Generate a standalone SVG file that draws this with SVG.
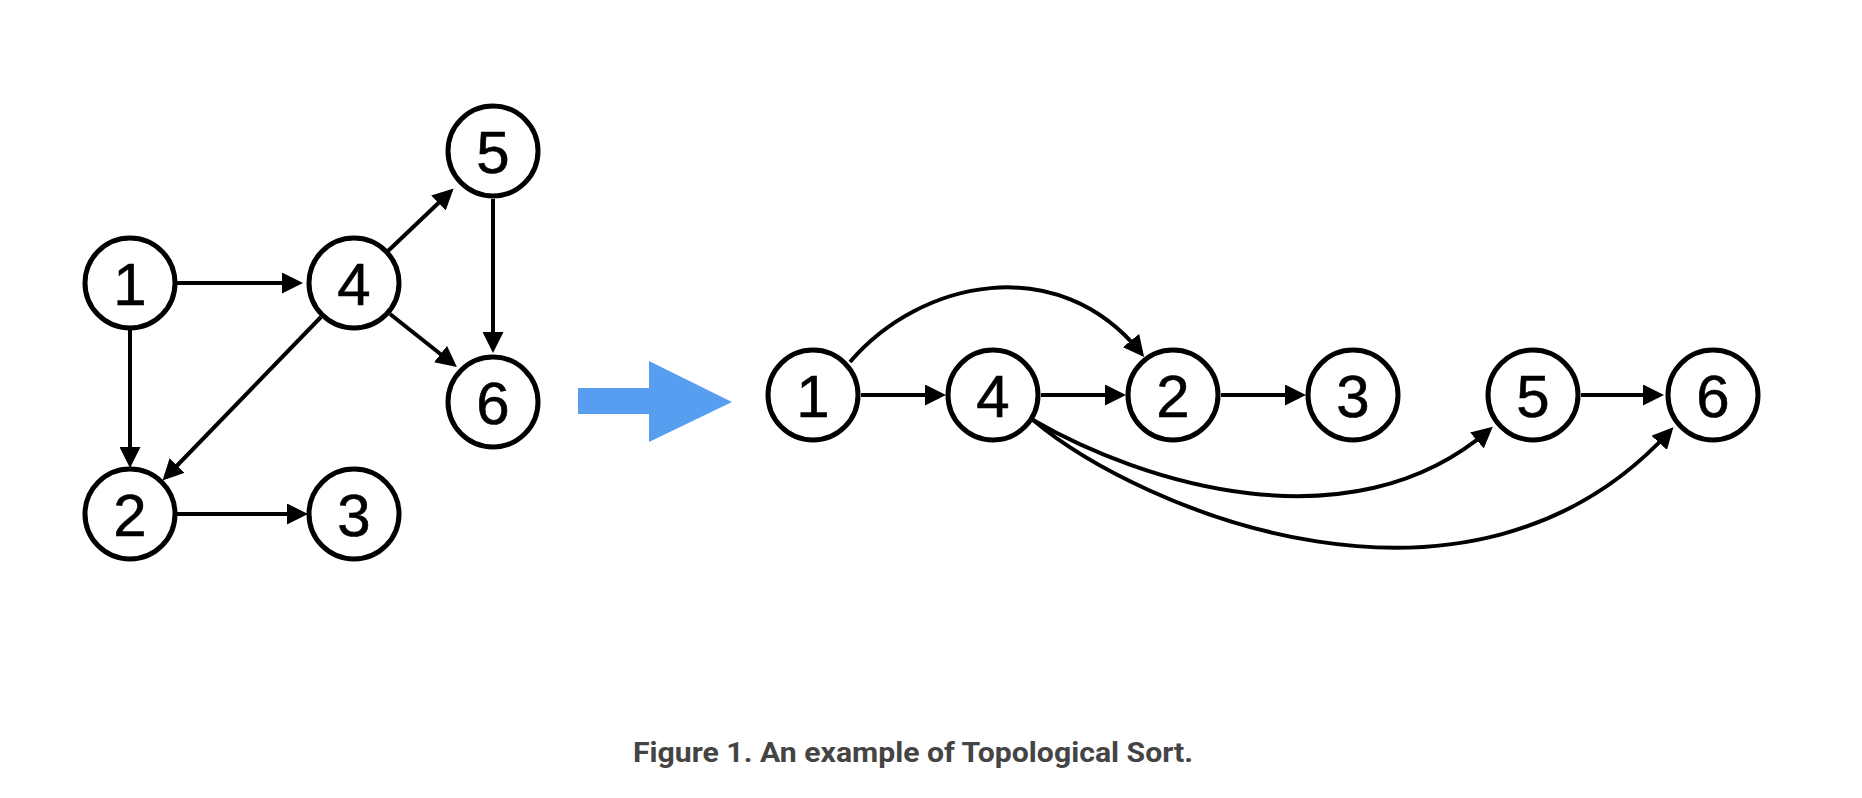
<svg xmlns="http://www.w3.org/2000/svg" width="1862" height="798" viewBox="0 0 1862 798">
  <style>
    .node circle { fill: #ffffff; stroke: #000000; stroke-width: 5; }
    .node text { font-family: "Liberation Sans", Arial, sans-serif; font-size: 60px; fill: #000000; stroke: #000000; stroke-width: 0.6; text-anchor: middle; }
    .edge { fill: none; stroke: #000000; stroke-width: 4; marker-end: url(#arrow); }
    .caption { font-family: Roboto, "Liberation Sans", sans-serif; font-weight: 700; font-size: 28.5px; fill: #444444; text-anchor: middle; }
  </style>
  <defs>
    <marker id="arrow" markerUnits="userSpaceOnUse" markerWidth="21" markerHeight="21" refX="16" refY="10.5" orient="auto" viewBox="0 0 21 21">
      <path d="M0,0 L21,10.5 L0,21 Z" fill="#000000"/>
    </marker>
  </defs>
  <rect x="0" y="0" width="1862" height="798" fill="#ffffff"/>

  <g id="connectors">
    <!-- left graph -->
    <path class="edge" d="M177,283 L298,283"/>
    <path class="edge" d="M130,330 L130,463"/>
    <path class="edge" d="M177,514 L303,514"/>
    <path class="edge" d="M388,251 L450,192"/>
    <path class="edge" d="M390,314 L453,364"/>
    <path class="edge" d="M321,317 L166,477"/>
    <path class="edge" d="M493,199 L493,348"/>
    <!-- right graph -->
    <path class="edge" d="M861,395 L941,395"/>
    <path class="edge" d="M1041,395 L1121,395"/>
    <path class="edge" d="M1221,395 L1301,395"/>
    <path class="edge" d="M1581,395 L1659,395"/>
    <path class="edge" d="M850,362 C920,280 1058,250 1141,353"/>
    <path class="edge" d="M1033,420 C1140,482 1350,550 1489,430"/>
    <path class="edge" d="M1033,420 C1140,510 1470,650 1670,431"/>
  </g>

  <g id="transform-arrow">
    <polygon points="578,388 649,388 649,361 732,402 649,442 649,414 578,414" fill="#589ef0"/>
  </g>

  <g id="left-node-1" class="node"><circle cx="130" cy="283" r="45"/><text x="130" y="304.5">1</text></g>
  <g id="left-node-4" class="node"><circle cx="354" cy="283" r="45"/><text x="354" y="304.5">4</text></g>
  <g id="left-node-5" class="node"><circle cx="493" cy="151" r="45"/><text x="493" y="172.5">5</text></g>
  <g id="left-node-6" class="node"><circle cx="493" cy="402" r="45"/><text x="493" y="423.5">6</text></g>
  <g id="left-node-2" class="node"><circle cx="130" cy="514" r="45"/><text x="130" y="535.5">2</text></g>
  <g id="left-node-3" class="node"><circle cx="354" cy="514" r="45"/><text x="354" y="535.5">3</text></g>

  <g id="right-node-1" class="node"><circle cx="813" cy="395" r="45"/><text x="813" y="416.5">1</text></g>
  <g id="right-node-4" class="node"><circle cx="993" cy="395" r="45"/><text x="993" y="416.5">4</text></g>
  <g id="right-node-2" class="node"><circle cx="1173" cy="395" r="45"/><text x="1173" y="416.5">2</text></g>
  <g id="right-node-3" class="node"><circle cx="1353" cy="395" r="45"/><text x="1353" y="416.5">3</text></g>
  <g id="right-node-5" class="node"><circle cx="1533" cy="395" r="45"/><text x="1533" y="416.5">5</text></g>
  <g id="right-node-6" class="node"><circle cx="1713" cy="395" r="45"/><text x="1713" y="416.5">6</text></g>

  <g id="caption">
    <text class="caption" x="913" y="762" textLength="560" lengthAdjust="spacingAndGlyphs">Figure 1. An example of Topological Sort.</text>
  </g>
</svg>
